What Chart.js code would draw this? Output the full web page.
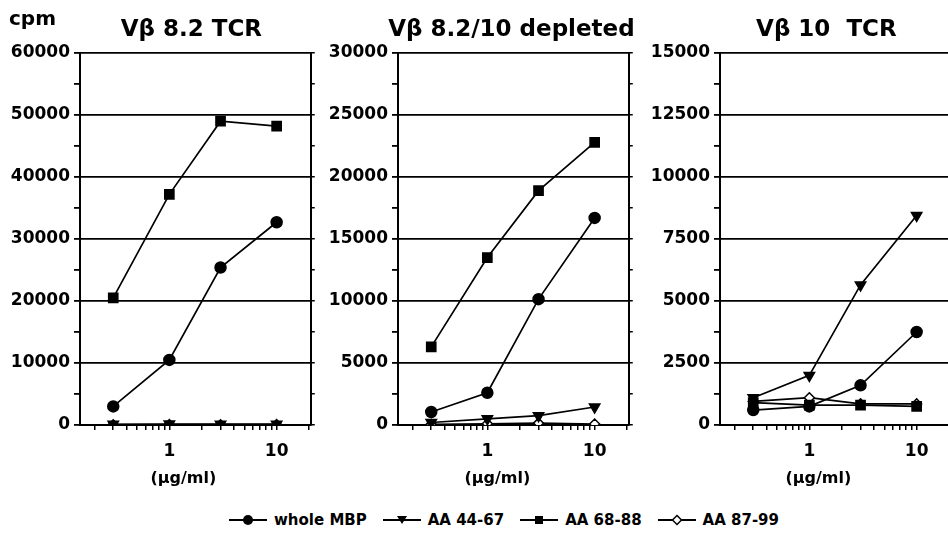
<!DOCTYPE html>
<html><head><meta charset="utf-8">
<script src="https://cdn.jsdelivr.net/npm/chart.js@4.4.1/dist/chart.umd.min.js"></script>
<style>
html,body{margin:0;padding:0;background:#fff;width:948px;height:546px;overflow:hidden;position:relative;}
canvas{position:absolute;top:0;}
#legend{position:absolute;left:0;width:948px;top:510px;height:20px;display:flex;justify-content:center;align-items:center;font:bold 15px "DejaVu Sans";color:#000;padding-left:60px;box-sizing:border-box;}
#legend .item{display:flex;align-items:center;margin:0 8px;}
#legend svg{margin-right:7px;}
</style></head>
<body>
<canvas id="c1" width="320" height="500" style="left:0px"></canvas>
<canvas id="c2" width="320" height="500" style="left:318px"></canvas>
<canvas id="c3" width="320" height="500" style="left:640px"></canvas>
<div id="legend"></div>
<script>
// ---- data ----
const doses = [0.3, 1, 3, 10];
const seriesNames = ['whole MBP', 'AA 44-67', 'AA 68-88', 'AA 87-99'];
const panelTitles = ['V\u03B2 8.2 TCR', 'V\u03B2 8.2/10 depleted', 'V\u03B2 10  TCR'];
const yAxisTitle = 'cpm';
const xAxisTitle = '(\u00B5g/ml)';

const p1WholeMBP = [3000, 10500, 25400, 32700];
const p1AA4467   = [120, 150, 130, 140];
const p1AA6888   = [20500, 37200, 49000, 48200];
const p1AA8799   = [50, 60, 50, 60];

const p2WholeMBP = [1050, 2600, 10150, 16700];
const p2AA4467   = [200, 500, 750, 1450];
const p2AA6888   = [6300, 13500, 18900, 22800];
const p2AA8799   = [50, 100, 150, 80];

const p3WholeMBP = [600, 750, 1600, 3750];
const p3AA4467   = [1100, 2000, 5650, 8450];
const p3AA6888   = [900, 800, 800, 750];
const p3AA8799   = [950, 1100, 850, 850];

const yMaxes = [60000, 30000, 15000];
const yLabelSteps = [10000, 5000, 2500];
const yMinorSteps = [5000, 2500, 1250];
const xTickValues = [0.2,0.3,0.4,0.5,0.6,0.7,0.8,0.9,1,2,3,4,5,6,7,8,9,10,20];
const xLabelValues = [1, 10];
const xRange = [0.147, 20.8];

// ---- styles ----
const FONT = 'DejaVu Sans';
const markerStyles = [
  {pointStyle: 'circle', pointRadius: 5.5, pointRotation: 0, fill: '#000'},
  {pointStyle: 'triangle', pointRadius: 6, pointRotation: 180, fill: '#000'},
  {pointStyle: 'rect', pointRadius: 6.5, pointRotation: 0, fill: '#000'},
  {pointStyle: 'rectRot', pointRadius: 5, pointRotation: 0, fill: '#fff'}
];

const panelText = {
  id: 'panelText',
  afterDraw(chart, args, o) {
    const ctx = chart.ctx, a = chart.chartArea;
    const cx = (a.left + a.right) / 2;
    ctx.save();
    ctx.fillStyle = '#000';
    ctx.textBaseline = 'alphabetic';
    ctx.textAlign = 'center';
    ctx.font = 'bold 23px "' + FONT + '"';
    ctx.fillText(o.title, cx + o.titleDx, 36);
    ctx.font = 'bold 16px "' + FONT + '"';
    ctx.textBaseline = 'middle';
    ctx.fillText(xAxisTitle, cx + o.xLabelDx, 479);
    if (o.cpm) {
      ctx.textAlign = 'left';
      ctx.textBaseline = 'alphabetic';
      ctx.font = 'bold 20px "' + FONT + '"';
      ctx.fillText(yAxisTitle, 9, 25);
    }
    ctx.restore();
  }
};

function makeChart(id, idx, series, titleDx, xLabelDx, cpm) {
  const major = yLabelSteps[idx];
  const datasets = series.map((vals, s) => ({
    label: seriesNames[s],
    data: doses.map((d, i) => ({x: d, y: vals[i]})),
    borderColor: '#000',
    borderWidth: 1.7,
    pointStyle: markerStyles[s].pointStyle,
    pointRadius: markerStyles[s].pointRadius,
    pointRotation: markerStyles[s].pointRotation,
    pointBackgroundColor: markerStyles[s].fill,
    pointBorderColor: '#000',
    pointBorderWidth: 1.5,
    tension: 0,
    fill: false
  }));
  return new Chart(document.getElementById(id), {
    type: 'line',
    data: {datasets},
    plugins: [panelText],
    options: {
      responsive: false,
      animation: false,
      devicePixelRatio: 1,
      layout: {padding: {top: 53, left: 0, right: 0, bottom: 0}},
      plugins: {
        legend: {display: false},
        tooltip: {enabled: false},
        panelText: {title: panelTitles[idx], titleDx, xLabelDx, cpm}
      },
      scales: {
        x: {
          type: 'logarithmic',
          min: xRange[0], max: xRange[1],
          afterBuildTicks: (sc) => { sc.ticks = xTickValues.map(v => ({value: v})); },
          afterFit: (sc) => { sc.height = 75; },
          border: {display: true, color: '#000', width: 2},
          grid: {drawOnChartArea: false, drawTicks: true, tickLength: 5, color: '#000', lineWidth: 1.5},
          ticks: {
            autoSkip: false, maxRotation: 0, padding: 11, color: '#000',
            font: {family: FONT, weight: 'bold', size: 17},
            callback: (v) => xLabelValues.includes(v) ? String(v) : ''
          }
        },
        y: {
          type: 'linear', position: 'left',
          min: 0, max: yMaxes[idx],
          afterFit: (sc) => { sc.width = 80; },
          border: {display: true, color: '#000', width: 2},
          grid: {
            drawOnChartArea: true, drawTicks: true, tickLength: 6, lineWidth: 1.8,
            color: (c) => (c.tick && c.tick.value % major === 0) ? '#000' : 'rgba(0,0,0,0)',
            tickColor: '#000'
          },
          ticks: {
            stepSize: yMinorSteps[idx], padding: 4, color: '#000',
            font: {family: FONT, weight: 'bold', size: 17},
            callback: (v) => (v % major === 0) ? String(v) : ''
          }
        },
        y2: {
          type: 'linear', position: 'right',
          min: 0, max: yMaxes[idx],
          afterFit: (sc) => { sc.width = 8; },
          border: {display: true, color: '#000', width: 2},
          grid: {drawOnChartArea: false, drawTicks: true, tickLength: 4, lineWidth: 1.5, color: '#000'},
          ticks: {stepSize: yMinorSteps[idx], padding: 0, callback: () => ''}
        }
      }
    }
  });
}

makeChart('c1', 0, [p1WholeMBP, p1AA4467, p1AA6888, p1AA8799], -4, -12, true);
makeChart('c2', 1, [p2WholeMBP, p2AA4467, p2AA6888, p2AA8799], -2, -16, false);
makeChart('c3', 2, [p3WholeMBP, p3AA4467, p3AA6888, p3AA8799], -9, -17, false);

// ---- legend ----
function symbolSvg(s) {
  const m = markerStyles[s];
  let mark = '';
  if (m.pointStyle === 'circle') mark = '<circle cx="19" cy="7" r="5" fill="#000"/>';
  if (m.pointStyle === 'triangle') mark = '<polygon points="14,3 24,3 19,11" fill="#000"/>';
  if (m.pointStyle === 'rect') mark = '<rect x="15" y="3" width="8" height="8" fill="#000"/>';
  if (m.pointStyle === 'rectRot') mark = '<polygon points="19,2.5 23.5,7 19,11.5 14.5,7" fill="#fff" stroke="#000" stroke-width="1.5"/>';
  return '<svg width="38" height="14"><line x1="0" y1="7" x2="38" y2="7" stroke="#000" stroke-width="2"/>' + mark + '</svg>';
}
document.getElementById('legend').innerHTML = seriesNames.map((n, s) =>
  '<span class="item">' + symbolSvg(s) + '<span>' + n + '</span></span>').join('');
</script>
</body></html>
